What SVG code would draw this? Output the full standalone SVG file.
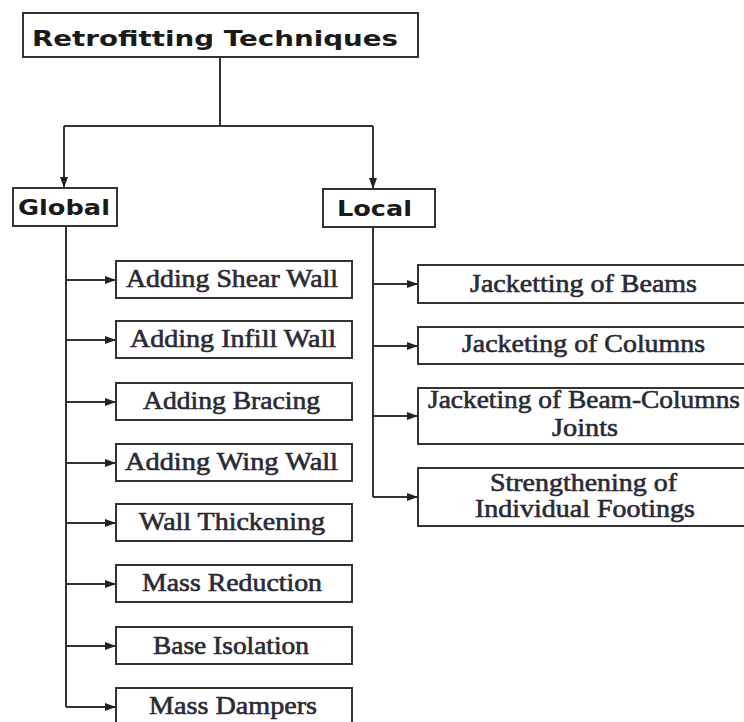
<svg xmlns="http://www.w3.org/2000/svg" width="744" height="722" viewBox="0 0 744 722">
<style>
.box{fill:#fff;stroke:#333;stroke-width:2}
.hd{font-family:"DejaVu Sans","Verdana",sans-serif;font-weight:bold;fill:#1a1a1a}
.it{font-family:"Liberation Serif","Times New Roman",serif;font-size:25px;fill:#2a2a35;stroke:#2a2a35;stroke-width:0.6;text-anchor:start}
.ln{fill:none;stroke:#333;stroke-width:2}
</style>
<defs>
<marker id="ah" markerUnits="userSpaceOnUse" markerWidth="11" markerHeight="8" refX="11" refY="4" orient="auto">
<path d="M0,0 L11,4 L0,8 z" fill="#222"/>
</marker>
</defs>
<rect width="744" height="722" fill="#fff"/>
<g id="connectors">
<path class="ln" d="M220 57 V126 M64 126 H373"/>
<path class="ln" d="M64 126 V188" marker-end="url(#ah)"/>
<path class="ln" d="M373 126 V189" marker-end="url(#ah)"/>
<path class="ln" d="M66 226 V707"/>
<path class="ln" d="M66 280 H116" marker-end="url(#ah)"/>
<path class="ln" d="M66 340 H116" marker-end="url(#ah)"/>
<path class="ln" d="M66 402 H116" marker-end="url(#ah)"/>
<path class="ln" d="M66 463 H116" marker-end="url(#ah)"/>
<path class="ln" d="M66 523 H116" marker-end="url(#ah)"/>
<path class="ln" d="M66 584 H116" marker-end="url(#ah)"/>
<path class="ln" d="M66 646 H116" marker-end="url(#ah)"/>
<path class="ln" d="M66 707 H116" marker-end="url(#ah)"/>
<path class="ln" d="M373 227 V497"/>
<path class="ln" d="M373 284 H418" marker-end="url(#ah)"/>
<path class="ln" d="M373 346 H418" marker-end="url(#ah)"/>
<path class="ln" d="M373 416 H418" marker-end="url(#ah)"/>
<path class="ln" d="M373 497 H418" marker-end="url(#ah)"/>
</g>
<g id="root">
<rect class="box" x="23" y="13" width="395" height="44"/>
<text class="hd" x="32" y="46" font-size="22" textLength="366" lengthAdjust="spacingAndGlyphs">Retrofitting Techniques</text>
</g>
<g id="global">
<rect class="box" x="13" y="188" width="104" height="38"/>
<text class="hd" x="18" y="215" font-size="22" textLength="92" lengthAdjust="spacingAndGlyphs">Global</text>
</g>
<g id="local">
<rect class="box" x="323" y="189" width="112" height="38"/>
<text class="hd" x="337" y="216" font-size="22" textLength="75" lengthAdjust="spacingAndGlyphs">Local</text>
</g>
<g id="g1"><rect class="box" x="116" y="261" width="236" height="37"/><text class="it" x="126" y="287" textLength="212" lengthAdjust="spacingAndGlyphs">Adding Shear Wall</text></g>
<g id="g2"><rect class="box" x="116" y="321" width="236" height="37"/><text class="it" x="130" y="347" textLength="206" lengthAdjust="spacingAndGlyphs">Adding Infill Wall</text></g>
<g id="g3"><rect class="box" x="116" y="383" width="236" height="37"/><text class="it" x="143" y="409" textLength="177" lengthAdjust="spacingAndGlyphs">Adding Bracing</text></g>
<g id="g4"><rect class="box" x="116" y="444" width="236" height="37"/><text class="it" x="125" y="470" textLength="213" lengthAdjust="spacingAndGlyphs">Adding Wing Wall</text></g>
<g id="g5"><rect class="box" x="116" y="504" width="236" height="37"/><text class="it" x="139" y="530" textLength="186" lengthAdjust="spacingAndGlyphs">Wall Thickening</text></g>
<g id="g6"><rect class="box" x="116" y="565" width="236" height="37"/><text class="it" x="142" y="591" textLength="180" lengthAdjust="spacingAndGlyphs">Mass Reduction</text></g>
<g id="g7"><rect class="box" x="116" y="627" width="236" height="37"/><text class="it" x="153" y="654" textLength="156" lengthAdjust="spacingAndGlyphs">Base Isolation</text></g>
<g id="g8"><rect class="box" x="116" y="688" width="236" height="40"/><text class="it" x="149" y="714" textLength="168" lengthAdjust="spacingAndGlyphs">Mass Dampers</text></g>
<g id="l1"><rect class="box" x="418" y="265" width="332" height="38"/><text class="it" x="470" y="292" textLength="227" lengthAdjust="spacingAndGlyphs">Jacketting of Beams</text></g>
<g id="l2"><rect class="box" x="418" y="327" width="332" height="37"/><text class="it" x="462" y="352" textLength="243" lengthAdjust="spacingAndGlyphs">Jacketing of Columns</text></g>
<g id="l3"><rect class="box" x="418" y="388" width="332" height="56"/><text class="it" x="428" y="408" textLength="312" lengthAdjust="spacingAndGlyphs">Jacketing of Beam-Columns</text><text class="it" x="552" y="436" textLength="66" lengthAdjust="spacingAndGlyphs">Joints</text></g>
<g id="l4"><rect class="box" x="418" y="468" width="332" height="58"/><text class="it" x="490" y="491" textLength="187" lengthAdjust="spacingAndGlyphs">Strengthening of</text><text class="it" x="475" y="517" textLength="220" lengthAdjust="spacingAndGlyphs">Individual Footings</text></g>
</svg>
